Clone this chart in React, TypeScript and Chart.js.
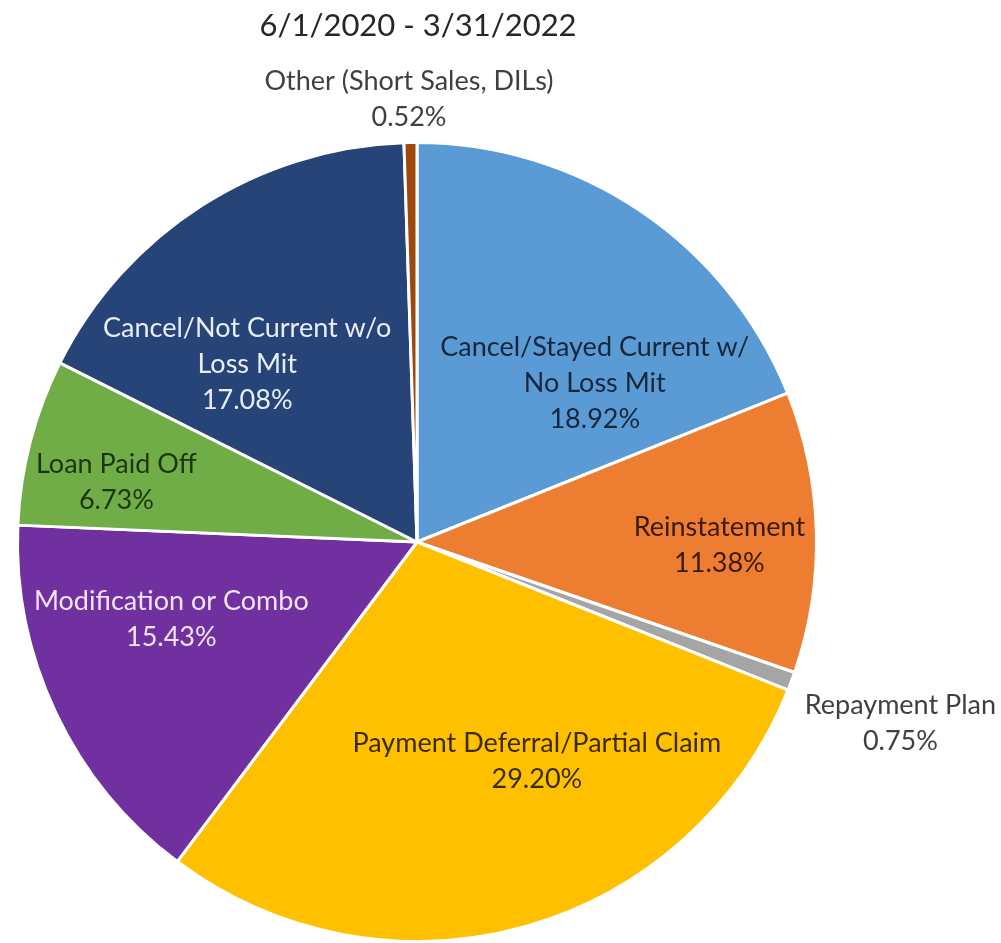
import React, { useEffect, useRef } from "react";
import { Chart, registerables } from "chart.js";

Chart.register(...registerables);

const TITLE = "6/1/2020 - 3/31/2022";
const categories = [
  "Cancel/Stayed Current w/ No Loss Mit",
  "Reinstatement",
  "Repayment Plan",
  "Payment Deferral/Partial Claim",
  "Modification or Combo",
  "Loan Paid Off",
  "Cancel/Not Current w/o Loss Mit",
  "Other (Short Sales, DILs)",
];
const values = [18.92, 11.38, 0.75, 29.2, 15.43, 6.73, 17.08, 0.52];
const labelLines = [
  ["Cancel/Stayed Current w/", "No Loss Mit"],
  ["Reinstatement"],
  ["Repayment Plan"],
  ["Payment Deferral/Partial Claim"],
  ["Modification or Combo"],
  ["Loan Paid Off"],
  ["Cancel/Not Current w/o", "Loss Mit"],
  ["Other (Short Sales, DILs)"],
];
const colors = ["#5B9BD5", "#ED7D31", "#A5A5A5", "#FFC000", "#7030A0", "#70AD47", "#264478", "#9E480E"];
const labelColors = ["#16263C", "#3A1A06", "#404040", "#3A2C00", "#F2E4F6", "#1C3510", "#E8EEF8", "#404040"];
// label centre relative to pie centre, in units of the radius
const labelOffsets = [
  [0.445, -0.397],
  [0.757, 0.008],
  [1.21, 0.454],
  [0.3, 0.55],
  [-0.615, 0.1925],
  [-0.7525, -0.15],
  [-0.425, -0.445],
  [-0.02, -1.1075],
];

const FONT = "Lato, 'Open Sans', sans-serif";

const labelPlugin = {
  id: "pieLabels",
  afterDraw(chart: any) {
    const ctx = chart.ctx;
    const meta = chart.getDatasetMeta(0);
    ctx.save();
    ctx.textAlign = "center";
    ctx.textBaseline = "middle";
    const first = meta.data[0];
    ctx.font = `31px ${FONT}`;
    ctx.fillStyle = "#262626";
    ctx.fillText(TITLE, first.x + 1, 26);
    ctx.font = `27px ${FONT}`;
    meta.data.forEach((arc: any, i: number) => {
      const R = arc.outerRadius;
      const cx = arc.x + labelOffsets[i][0] * R;
      const cy = arc.y + labelOffsets[i][1] * R;
      const lines = [...labelLines[i], values[i].toFixed(2) + "%"];
      const lh = 36;
      const y0 = cy - ((lines.length - 1) * lh) / 2;
      ctx.fillStyle = labelColors[i];
      lines.forEach((t, k) => ctx.fillText(t, cx, y0 + k * lh));
    });
    ctx.restore();
  },
};

export default function App() {
  const ref = useRef<HTMLCanvasElement>(null);
  useEffect(() => {
    document.body.style.margin = "0";
    const chart = new Chart(ref.current!, {
      type: "pie",
      data: {
        labels: categories,
        datasets: [
          {
            data: values,
            backgroundColor: colors,
            borderColor: "#FFFFFF",
            borderWidth: 3,
          },
        ],
      },
      options: {
        responsive: false,
        animation: false,
        layout: { padding: { left: 15, right: 182, top: 141, bottom: -2 } },
        plugins: {
          legend: { display: false },
          tooltip: { enabled: false },
          title: { display: false },
        },
      },
      plugins: [labelPlugin],
    });
    return () => chart.destroy();
  }, []);
  return (
    <div style={{ width: 1001, height: 943, background: "#fff" }}>
      <canvas ref={ref} width={1001} height={943} />
    </div>
  );
}
